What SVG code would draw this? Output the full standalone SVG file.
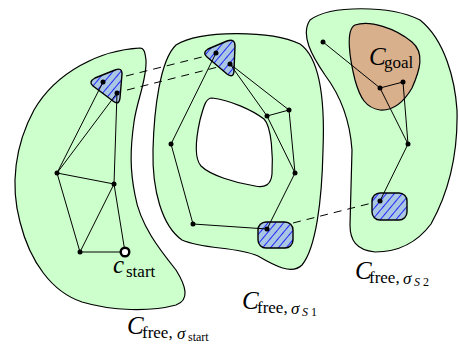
<svg xmlns="http://www.w3.org/2000/svg" width="459" height="346" viewBox="0 0 459 346">
<style>
.region{fill:#ccffcc;stroke:#000;stroke-width:1.2}
.hole{fill:#fff;stroke:#000;stroke-width:1.2}
.obs{fill:url(#hatch);stroke:#000;stroke-width:1.4;stroke-linejoin:round}
.goal{fill:#d9b08c;stroke:#000;stroke-width:1.2}
.edge{stroke:#000;stroke-width:1;fill:none}
.dash{stroke:#000;stroke-width:1;fill:none;stroke-dasharray:8,6}
.pt{fill:#000}
.start{fill:#fff;stroke:#000;stroke-width:2.4}
text{font-family:"Liberation Serif","Times New Roman",serif;fill:#000}
.big{font-size:25px;font-style:italic}
.sub{font-size:17px}
.subi{font-size:17px;font-style:italic}
.ss{font-size:12px}
.ssi{font-size:12px;font-style:italic}
</style>
<defs>
<pattern id="hatch" patternUnits="userSpaceOnUse" width="6" height="6" patternTransform="rotate(40)">
<rect width="6" height="6" fill="#a9c6e3"/>
<line x1="0" y1="0" x2="0" y2="6" stroke="#0000ff" stroke-width="1.6"/>
</pattern>
</defs>

<g id="region-start">
<path class="region" d="M140,48 C100,50 56,72 34,110 C15,145 10,185 20,222 C30,262 52,292 82,302 C112,311 150,312 176,305 C190,300 186,286 176,270 C160,250 140,225 135,195 C130,170 130,150 134,122 C137,100 147,80 146,60 C145,52 144,48 140,48 Z"/>
</g>
<g id="region-s1">
<path class="region" d="M176,45 C200,30 270,30 300,44 C320,58 325,100 323,150 C322,200 316,248 302,265 C292,275 275,266 258,256 C235,246 205,250 182,240 C162,226 152,190 153,150 C154,110 160,60 176,45 Z"/>
<path class="hole" d="M212,98 C230,100 252,110 264,119 C272,127 273,158 272,174 C271,185 265,188 255,186 C235,183 210,175 201,166 C194,158 196,138 200,120 C204,105 206,98 212,98 Z"/>
</g>
<g id="region-s2">
<path class="region" d="M310,20 C330,5 390,5 420,20 C445,40 455,80 457,110 C458,150 450,190 431,224 C416,244 396,252 375,252 C356,250 350,240 350,225 L352,150 C350,120 340,95 325,75 C312,56 300,35 310,20 Z"/>
</g>
<g id="goal">
<path class="goal" d="M355,25 C370,20 395,28 412,42 C425,53 420,70 412,88 C405,100 395,111 380,110 C366,108 360,98 355,80 C350,60 345,30 355,25 Z"/>
<text class="big" x="369" y="65">C</text><text class="sub" x="384" y="68">goal</text>
</g>
<g id="obstacle-start">
<path class="obs" d="M95,78 L115,70 Q122,67 122,74 L120,98 Q119,106 113,101 L93,86 Q88,82 95,78 Z"/>
</g>
<g id="obstacle-s1">
<path class="obs" d="M208,49 L227,41 Q235,38 235,46 L234,70 Q234,79 227,74 L207,57 Q202,53 208,49 Z"/>
</g>
<g id="obstacle-s1-exit">
<rect class="obs" x="258" y="222" width="35" height="26" rx="8"/>
</g>
<g id="obstacle-s2">
<rect class="obs" x="372" y="193" width="35" height="27" rx="8"/>
</g>

<g id="connectors">
<line class="edge" x1="57" y1="173" x2="103" y2="82"/>
<line class="edge" x1="57" y1="173" x2="117" y2="93"/>
<line class="edge" x1="117" y1="93" x2="114" y2="184"/>
<line class="edge" x1="57" y1="173" x2="114" y2="184"/>
<line class="edge" x1="57" y1="173" x2="80" y2="252"/>
<line class="edge" x1="114" y1="184" x2="80" y2="252"/>
<line class="edge" x1="114" y1="184" x2="125" y2="252"/>
<line class="edge" x1="80" y1="252" x2="125" y2="252"/>
<line class="edge" x1="216" y1="53" x2="171" y2="144"/>
<line class="edge" x1="171" y1="144" x2="193" y2="224"/>
<line class="edge" x1="193" y1="224" x2="267" y2="229"/>
<line class="edge" x1="267" y1="229" x2="295" y2="173"/>
<line class="edge" x1="230" y1="64" x2="267" y2="116"/>
<line class="edge" x1="230" y1="64" x2="289" y2="110"/>
<line class="edge" x1="267" y1="116" x2="289" y2="110"/>
<line class="edge" x1="267" y1="116" x2="295" y2="173"/>
<line class="edge" x1="289" y1="110" x2="295" y2="173"/>
<line class="edge" x1="323" y1="42" x2="380" y2="88"/>
<line class="edge" x1="380" y1="88" x2="403" y2="82"/>
<line class="edge" x1="380" y1="88" x2="408" y2="144"/>
<line class="edge" x1="403" y1="82" x2="408" y2="144"/>
<line class="edge" x1="408" y1="144" x2="380" y2="201"/>
<line class="dash" x1="126" y1="76" x2="206" y2="56"/>
<line class="dash" x1="127" y1="90" x2="218" y2="67"/>
<line class="dash" x1="293" y1="223" x2="372" y2="203"/>
</g>

<g id="points">
<circle class="pt" cx="103" cy="82" r="2.5"/>
<circle class="pt" cx="117" cy="93" r="2.5"/>
<circle class="pt" cx="57" cy="173" r="2.5"/>
<circle class="pt" cx="114" cy="184" r="2.5"/>
<circle class="pt" cx="80" cy="252" r="2.5"/>
<circle class="start" cx="125" cy="252" r="4.3"/>
<circle class="pt" cx="216" cy="53" r="2.5"/>
<circle class="pt" cx="230" cy="64" r="2.5"/>
<circle class="pt" cx="267" cy="116" r="2.5"/>
<circle class="pt" cx="289" cy="110" r="2.5"/>
<circle class="pt" cx="171" cy="144" r="2.5"/>
<circle class="pt" cx="295" cy="173" r="2.5"/>
<circle class="pt" cx="193" cy="224" r="2.5"/>
<circle class="pt" cx="267" cy="229" r="2.5"/>
<circle class="pt" cx="323" cy="42" r="2.5"/>
<circle class="pt" cx="380" cy="88" r="2.5"/>
<circle class="pt" cx="403" cy="82" r="2.5"/>
<circle class="pt" cx="408" cy="144" r="2.5"/>
<circle class="pt" cx="380" cy="201" r="2.5"/>
</g>

<g id="labels">
<text class="big" x="113" y="273">c</text><text class="sub" x="126" y="277">start</text>
<text class="big" x="127" y="334">C</text><text class="sub" x="142" y="338">free,</text><text class="subi" x="177" y="339">σ</text><text class="ss" x="188" y="341">start</text>
<text class="big" x="242" y="309">C</text><text class="sub" x="257" y="313">free,</text><text class="subi" x="291" y="314">σ</text><text class="ssi" x="302" y="316">S</text><text class="ss" x="311" y="316">1</text>
<text class="big" x="355" y="279">C</text><text class="sub" x="369" y="283">free,</text><text class="subi" x="403" y="284">σ</text><text class="ssi" x="414" y="286">S</text><text class="ss" x="423" y="286">2</text>
</g>
</svg>
